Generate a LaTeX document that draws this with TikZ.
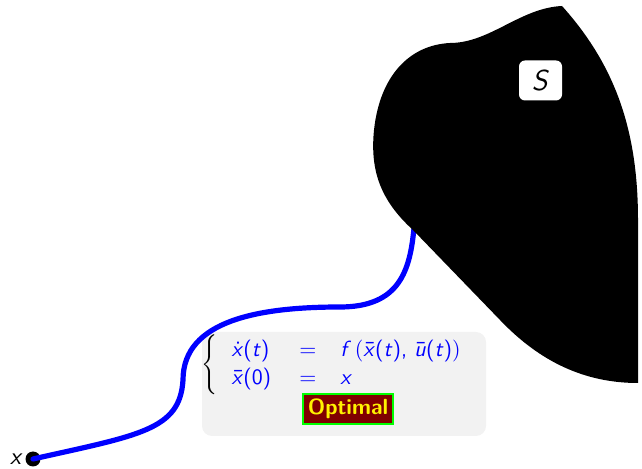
\documentclass[tikz,border=0pt,11pt]{standalone}
\definecolor{optfill}{HTML}{800000}
\definecolor{optline}{HTML}{00FF00}
\definecolor{boxgray}{HTML}{F2F2F2}
\newcommand{\sv}[1]{\textit{#1}}
\begin{document}
\begin{tikzpicture}[x=0.5pt,y=-0.5pt,font=\sffamily,
  infobox/.style={fill=boxgray,rounded corners=5pt,minimum width=142pt,minimum height=52pt,inner sep=0pt},
  blob/.style={fill=black},
  startdot/.style={circle,fill=black,minimum size=7.5pt,inner sep=0pt},
  traj/.style={draw=blue,line width=2.6pt,line cap=round},
  slabel/.style={fill=white,rounded corners=3pt,minimum width=21.5pt,minimum height=20pt,inner sep=0pt,font=\sffamily\Large},
  optbox/.style={fill=optfill,draw=optline,line width=1pt,text=yellow,font=\sffamily\bfseries,inner sep=2.5pt}]
\useasboundingbox (0,0) rectangle (642,469);
\node[infobox] (box) at (344,384) {};
\node[startdot] (start) at (33,459) {};
\node[left,inner sep=1pt,font=\sffamily\large] (xl) at (start.west) {\sv{x}};
\coordinate (end) at (414,228);
\draw[traj] (start.center) .. controls (140,435) and (180,430) .. (183,380)
  .. controls (183,320) and (260,307) .. (340,307)
  .. controls (400,307) and (410,270) .. (end);
\path[blob] (562,6) .. controls (615,65) and (638,130) .. (638,220) -- (638,383)
  .. controls (585,383) and (540,362) .. (500,320) -- (413,230)
  .. controls (380,200) and (370,170) .. (374,130)
  .. controls (380,75) and (410,45) .. (450,43)
  .. controls (490,43) and (520,8) .. (562,6) -- cycle;
\node[slabel] (S) at (540.5,80.5) {\sv{S}};
\node[anchor=west,inner sep=0pt] (eq) at (201,365)
  {$\left\{\color{blue}\begin{tabular}{@{\hspace{7pt}}l@{\hspace{14pt}}c@{\hspace{12pt}}l@{}}
   \.{\sv{x}}(\sv{t}) & = & \sv{f}\,$\bigl($\={\sv{x}}(\sv{t}), \={\sv{u}}(\sv{t})$\bigr)$\\
   \={\sv{x}}(0) & = & \sv{x}
   \end{tabular}\right.$};
\node[optbox] (opt) at (348,409) {Optimal};
\end{tikzpicture}
\end{document}
